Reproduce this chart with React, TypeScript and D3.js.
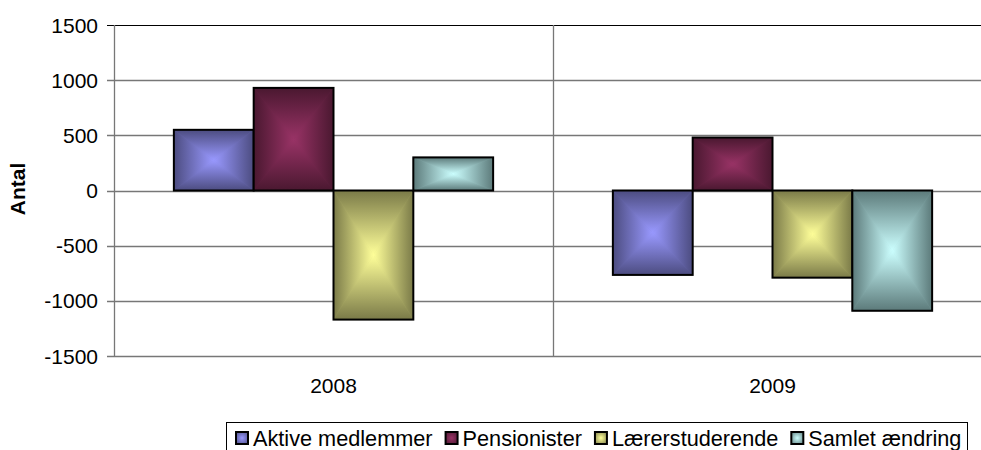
import React, { useEffect, useRef, useState } from 'react';
import * as d3 from 'd3';

const years = ['2008', '2009'];
const seriesNames = ['Aktive medlemmer', 'Pensionister', 'Lærerstuderende', 'Samlet ændring'];
const aktive = [550, -765];
const pensionister = [930, 480];
const laerer = [-1170, -790];
const samlet = [300, -1090];
const yTicks = [-1500, -1000, -500, 0, 500, 1000, 1500];

const seriesValues = [aktive, pensionister, laerer, samlet];
// light centre, mid, dark edge
const seriesColors = [
  ['#9999ff', '#7373bf', '#4c4c80'],
  ['#993366', '#72264c', '#4a1830'],
  ['#ffff99', '#bdbd72', '#7a7a48'],
  ['#ccffff', '#94bdbd', '#5c7a7a'],
];

const W = 981;
const H = 450;
const FONT = 'Liberation Sans, Arial, sans-serif';

const App: React.FC = () => {
  const legendRef = useRef<SVGGElement>(null);
  const [widths, setWidths] = useState<number[]>(seriesNames.map(n => n.length * 11));

  const left = 114, right = 992, top = 25, bottom = 356;

  const x = d3.scaleBand<string>().domain(years).range([left, right]).paddingInner(0).paddingOuter(0);
  const sub = d3.scaleBand<string>().domain(seriesNames).range([0, x.bandwidth()]).paddingInner(0).paddingOuter(0.75);
  const y = d3.scaleLinear().domain([-1500, 1500]).range([bottom, top]);

  useEffect(() => {
    if (!legendRef.current) return;
    const w: number[] = [];
    d3.select(legendRef.current).selectAll<SVGTextElement, unknown>('text').each(function () {
      w.push(this.getComputedTextLength());
    });
    if (w.length === seriesNames.length && w.some((v, i) => Math.abs(v - widths[i]) > 0.5)) setWidths(w);
  }, [widths]);

  // legend layout
  const legendX0 = 235;
  const legendPos: number[] = [];
  let cx = legendX0;
  seriesNames.forEach((_, i) => {
    legendPos.push(cx);
    cx += 18 + widths[i] + 12;
  });

  const bar = (si: number, yi: number) => {
    const v = seriesValues[si][yi];
    const bx = (x(years[yi]) || 0) + (sub(seriesNames[si]) || 0);
    const bw = sub.bandwidth();
    const y0 = y(Math.max(0, v));
    const y1 = y(Math.min(0, v));
    const bh = y1 - y0;
    const mx = bx + bw / 2, my = y0 + bh / 2;
    const id = `g${si}`;
    const tri = (pts: string, g: string) => (
      <polygon points={pts} fill={`url(#${id}${g})`} stroke={`url(#${id}${g})`} strokeWidth={0.6} strokeLinejoin="round" />
    );
    return (
      <g key={`${si}-${yi}`}>
        <rect x={bx} y={y0} width={bw} height={bh} fill={seriesColors[si][1]} />
        {tri(`${bx},${y0} ${bx + bw},${y0} ${mx},${my}`, 't')}
        {tri(`${bx},${y1} ${bx + bw},${y1} ${mx},${my}`, 'b')}
        {tri(`${bx},${y0} ${bx},${y1} ${mx},${my}`, 'l')}
        {tri(`${bx + bw},${y0} ${bx + bw},${y1} ${mx},${my}`, 'r')}
        <rect x={bx} y={y0} width={bw} height={bh} fill="none" stroke="#000" strokeWidth={2} />
      </g>
    );
  };

  return (
    <svg width={W} height={H} style={{ position: 'absolute', left: 0, top: 0, background: '#fff' }} fontFamily={FONT}>
      <defs>
        {seriesColors.map(([c, , e], i) => (
          <React.Fragment key={i}>
            <linearGradient id={`g${i}t`} x1="0" y1="0" x2="0" y2="1">
              <stop offset="0" stopColor={e} /><stop offset="1" stopColor={c} />
            </linearGradient>
            <linearGradient id={`g${i}b`} x1="0" y1="1" x2="0" y2="0">
              <stop offset="0" stopColor={e} /><stop offset="1" stopColor={c} />
            </linearGradient>
            <linearGradient id={`g${i}l`} x1="0" y1="0" x2="1" y2="0">
              <stop offset="0" stopColor={e} /><stop offset="1" stopColor={c} />
            </linearGradient>
            <linearGradient id={`g${i}r`} x1="1" y1="0" x2="0" y2="0">
              <stop offset="0" stopColor={e} /><stop offset="1" stopColor={c} />
            </linearGradient>
            <radialGradient id={`g${i}c`} cx="0.5" cy="0.5" r="0.7">
              <stop offset="0" stopColor={c} /><stop offset="1" stopColor={e} />
            </radialGradient>
          </React.Fragment>
        ))}
      </defs>
      <rect width={W} height={H} fill="#fff" />

      {/* gridlines */}
      {yTicks.map(t => (
        <line key={t} x1={left - 7} x2={right} y1={Math.round(y(t)) + 0.5} y2={Math.round(y(t)) + 0.5}
          stroke={t === 1500 ? '#000' : '#777'} strokeWidth={t === 1500 ? 1 : 1.3} />
      ))}
      {/* category separator */}
      <line x1={Math.round(x.bandwidth() + left) + 0.5} x2={Math.round(x.bandwidth() + left) + 0.5}
        y1={top} y2={bottom + 1} stroke="#777" strokeWidth={1.3} />
      {/* value axis */}
      <line x1={left + 0.5} x2={left + 0.5} y1={top} y2={bottom + 1} stroke="#777" strokeWidth={1.3} />

      {yTicks.map(t => (
        <text key={t} x={98} y={y(t) + 7.5} textAnchor="end" fontSize={21} fill="#000">{t}</text>
      ))}

      {years.map((yr, yi) => seriesNames.map((_, si) => bar(si, yi)))}

      {years.map(yr => (
        <text key={yr} x={(x(yr) || 0) + x.bandwidth() / 2} y={393} textAnchor="middle" fontSize={21} fill="#000">{yr}</text>
      ))}

      <text transform={`translate(25,189) rotate(-90)`} textAnchor="middle" fontSize={21} fontWeight="bold" fill="#000">Antal</text>

      {/* legend */}
      <rect x={226.5} y={422.5} width={741} height={40} fill="#fff" stroke="#000" strokeWidth={1} />
      <g ref={legendRef}>
        {seriesNames.map((n, i) => (
          <React.Fragment key={n}>
            <rect x={legendPos[i] + 1} y={432} width={12} height={12}
              fill={`url(#g${i}c)`} stroke="#000" strokeWidth={2} />
            <text x={legendPos[i] + 18} y={446} fontSize={21.7} fill="#000">{n}</text>
          </React.Fragment>
        ))}
      </g>
    </svg>
  );
};

export default App;
